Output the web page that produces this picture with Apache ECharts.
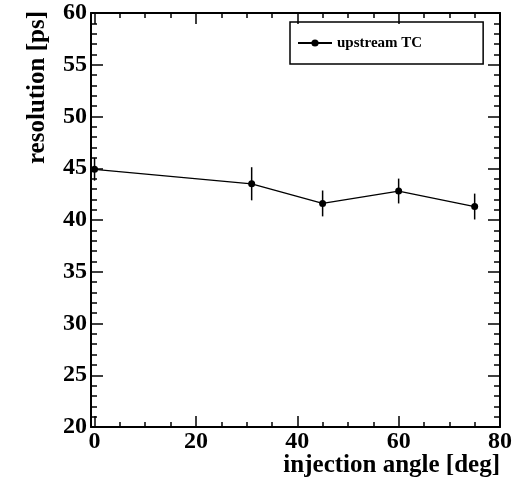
<!DOCTYPE html>
<html>
<head>
<meta charset="utf-8">
<script src="https://cdn.jsdelivr.net/npm/echarts@6/dist/echarts.min.js"></script>
<style>
  html, body { margin: 0; padding: 0; background: #fff; }
  #chart { width: 531px; height: 485px; }
</style>
</head>
<body>
<div id="chart"></div>
<script>
const angles = [0, 31, 45, 60, 75];
const resolution = [44.9, 43.5, 41.6, 42.8, 41.3];
const errors = [1.1, 1.6, 1.25, 1.2, 1.25];
const xTicks = [0, 20, 40, 60, 80];
const yTicks = [20, 25, 30, 35, 40, 45, 50, 55, 60];

const font = '"Liberation Serif", "Times New Roman", serif';

const points = angles.map((a, i) => [a, resolution[i]]);
const bars = angles.map((a, i) => [a, resolution[i] - errors[i], resolution[i] + errors[i]]);

// shared look of the frame axes (ROOT style: ticks inside, on all four sides)
const xBase = {
  type: "value",
  min: -0.7,
  max: 80,
  splitLine: { show: false },
  axisLine: { onZero: false, lineStyle: { color: "#000", width: 2 } },
  axisTick: { inside: true, length: 11, lineStyle: { color: "#000", width: 1.5 } },
  minorTick: { show: true, splitNumber: 4, length: 5, lineStyle: { color: "#000", width: 1.5 } },
};
const yBase = {
  type: "value",
  min: 20,
  max: 60,
  interval: 5,
  splitLine: { show: false },
  axisLine: { onZero: false, lineStyle: { color: "#000", width: 2 } },
  axisTick: { inside: true, length: 12, lineStyle: { color: "#000", width: 1.5 } },
  minorTick: { show: true, splitNumber: 5, length: 6, lineStyle: { color: "#000", width: 1.5 } },
};

const chart = echarts.init(document.getElementById("chart"));
chart.setOption({
  animation: false,
  grid: { left: 91, right: 31, top: 13, bottom: 58, outerBoundsMode: "none" },
  legend: {
    data: ["upstream TC"],
    left: 290,
    top: 22,
    padding: [13.5, 61, 13.5, 7],
    borderColor: "#000",
    borderWidth: 1.5,
    itemWidth: 34,
    itemHeight: 9,
    textStyle: { fontFamily: font, fontWeight: "bold", fontSize: 15, color: "#000" },
  },
  xAxis: [
    Object.assign({}, xBase, {
      position: "bottom",
      name: "injection angle [deg]",
      nameLocation: "end",
      nameGap: 0,
      nameMoveOverlap: false,
      nameTextStyle: {
        fontFamily: font, fontWeight: "bold", fontSize: 25, color: "#000",
        align: "right", verticalAlign: "top", padding: [26, 0, 0, 0],
      },
      axisLabel: {
        margin: 3,
        fontFamily: font, fontWeight: "bold", fontSize: 24, color: "#000",
        formatter: (v) => (xTicks.includes(v) ? String(v) : ""),
      },
    }),
    Object.assign({}, xBase, { position: "top", axisLabel: { show: false } }),
  ],
  yAxis: [
    Object.assign({}, yBase, {
      position: "left",
      name: "resolution [ps]",
      nameLocation: "end",
      nameRotate: 90,
      nameGap: 2,
      nameMoveOverlap: false,
      nameTextStyle: {
        fontFamily: font, fontWeight: "bold", fontSize: 25, color: "#000",
        align: "right", verticalAlign: "bottom", padding: [0, 0, 41, 0],
      },
      axisLabel: {
        margin: 4,
        fontFamily: font, fontWeight: "bold", fontSize: 24, color: "#000",
        formatter: (v) => (yTicks.includes(v) ? String(v) : ""),
      },
    }),
    Object.assign({}, yBase, { position: "right", axisLabel: { show: false } }),
  ],
  series: [
    {
      name: "errors",
      type: "custom",
      xAxisIndex: 0,
      yAxisIndex: 0,
      data: bars,
      encode: { x: 0, y: [1, 2] },
      z: 1,
      renderItem: function (params, api) {
        const x = api.value(0);
        const lo = api.coord([x, api.value(1)]);
        const hi = api.coord([x, api.value(2)]);
        return {
          type: "line",
          shape: { x1: lo[0], y1: lo[1], x2: hi[0], y2: hi[1] },
          style: { stroke: "#000", lineWidth: 1.5 },
        };
      },
    },
    {
      name: "upstream TC",
      type: "line",
      xAxisIndex: 0,
      yAxisIndex: 0,
      data: points,
      z: 2,
      symbol: "circle",
      symbolSize: 7,
      lineStyle: { color: "#000", width: 1.3 },
      itemStyle: { color: "#000" },
    },
  ],
});
</script>
</body>
</html>
